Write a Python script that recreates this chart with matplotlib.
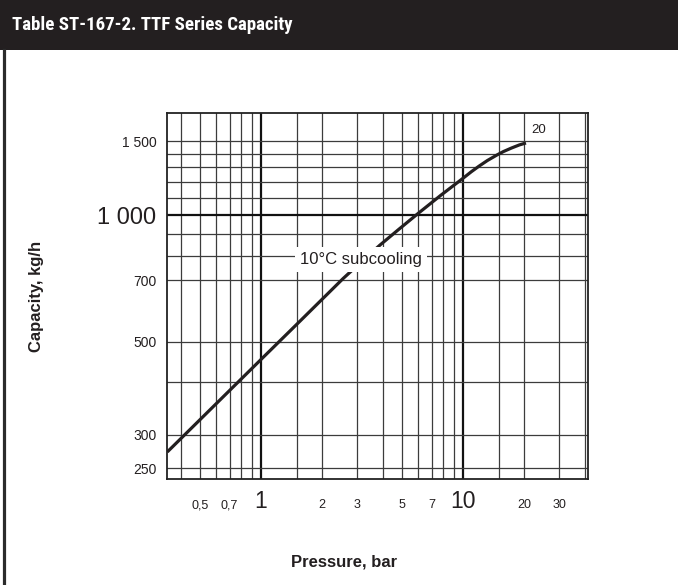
import matplotlib
matplotlib.use('Agg')
import matplotlib.pyplot as plt
from matplotlib import font_manager
from matplotlib.font_manager import FontProperties
from matplotlib.lines import Line2D
from matplotlib.patches import Rectangle
from matplotlib.ticker import NullLocator

# ---- data ----
pressure = [0.344, 0.5, 1.0, 1.56, 2.55, 3.16, 3.88, 4.79, 6.0, 7.76, 10.0,
            11.0, 12.0, 13.2, 14.7, 15.85, 17.4, 19.05, 20.5]
capacity = [273, 326, 453, 559, 706, 776, 848, 923, 1009, 1114, 1223,
            1268, 1307, 1348, 1389, 1416, 1444, 1469, 1484]

x_grid = [0.4, 0.5, 0.6, 0.7, 0.8, 0.9, 1, 1.5, 2, 3, 4, 5, 6, 7, 8, 9, 10, 15, 20, 30, 40]
y_grid = [250, 300, 400, 500, 700, 800, 900, 1000, 1100, 1200, 1300, 1400, 1500]
x_major = [1, 10]
y_major = [1000]

x_tick_vals = [0.5, 0.7, 1, 2, 3, 5, 7, 10, 20, 30]
x_tick_text = ['0,5', '0,7', '1', '2', '3', '5', '7', '10', '20', '30']
y_tick_vals = [250, 300, 500, 700, 1000, 1500]
y_tick_text = ['250', '300', '500', '700', '1 000', '1 500']

title = 'Table ST-167-2. TTF Series Capacity'
curve_label = '10°C subcooling'
end_label = '20'
x_label = 'Pressure, bar'
y_label = 'Capacity, kg/h'

# ---- fonts ----
names = {f.name for f in font_manager.fontManager.ttflist}
base_font = 'Liberation Sans' if 'Liberation Sans' in names else 'DejaVu Sans'
plt.rcParams['font.family'] = [base_font, 'DejaVu Sans']

title_prop = None
for key in ('LiberationSansNarrow-Bold', 'RobotoCondensed-Bold', 'DejaVuSansCondensed-Bold',
            'OpenSansCondensed-Bold', 'NotoSans-CondensedBold'):
    for f in font_manager.fontManager.ttflist:
        if key.lower() in f.fname.lower().replace('_', '').replace(' ', ''):
            title_prop = FontProperties(fname=f.fname)
            break
    if title_prop is not None:
        break
if title_prop is None:
    title_prop = FontProperties(family=base_font, weight='bold')

W, H = 678, 585
fig = plt.figure(figsize=(W / 100, H / 100), dpi=100)
fig.patch.set_facecolor('white')

# title bar
bar_h = 50 / H
fig.add_artist(Rectangle((0, 1 - bar_h), 1, bar_h, transform=fig.transFigure,
                         facecolor='#231f20', edgecolor='none'))
title_prop.set_size(16)
t = fig.text(12 / W, 1 - 25 / H, title, color='white', fontproperties=title_prop,
             ha='left', va='center')
renderer = fig.canvas.get_renderer()
w = t.get_window_extent(renderer).width
title_prop.set_size(min(18, 16 * 282 / w))
t.set_fontproperties(title_prop)

# left frame line
fig.add_artist(Line2D([4.3 / W, 4.3 / W], [0, 1 - bar_h], transform=fig.transFigure,
                      color='#2b2b2b', lw=2.3))

# axes
left, right, top, bottom = 167.3, 588.3, 112.7, 479.3
ax = fig.add_axes([left / W, 1 - bottom / H, (right - left) / W, (bottom - top) / H])
ax.set_xscale('log')
ax.set_yscale('log')
ax.set_xlim(0.344, 41.7)
ax.set_ylim(235, 1752)
ax.xaxis.set_minor_locator(NullLocator())
ax.yaxis.set_minor_locator(NullLocator())

for xv in x_grid:
    if xv in x_major:
        ax.axvline(xv, color='#111111', lw=1.6, zorder=1)
    else:
        ax.axvline(xv, color='#3c3c3c', lw=0.9, zorder=1)
for yv in y_grid:
    if yv in y_major:
        ax.axhline(yv, color='#111111', lw=1.6, zorder=1)
    else:
        ax.axhline(yv, color='#3c3c3c', lw=0.9, zorder=1)

for s in ax.spines.values():
    s.set_linewidth(1.3)
    s.set_color('#222222')

ax.plot(pressure, capacity, color='#231f20', lw=2.3, solid_capstyle='butt',
        solid_joinstyle='round', zorder=3)

ax.text(3.14, 785, curve_label, fontsize=12, ha='center', va='center', color='#231f20',
        bbox=dict(boxstyle='square,pad=0.3', fc='white', ec='none'), zorder=4)
ax.text(23.8, 1594, end_label, fontsize=9.5, ha='center', va='center', color='#231f20')

ax.set_xticks(x_tick_vals, x_tick_text)
ax.set_yticks(y_tick_vals, y_tick_text)
ax.tick_params(axis='x', length=0, pad=20.9, colors='#231f20')
ax.tick_params(axis='y', length=0, pad=7.9, colors='#231f20')
for lbl in ax.get_xticklabels():
    lbl.set_verticalalignment('baseline')
    lbl.set_fontsize(16.5 if lbl.get_text() in ('1', '10') else 9)
for lbl in ax.get_yticklabels():
    lbl.set_fontsize(17 if lbl.get_text() == '1 000' else 10)

fig.text(36 / W, 1 - 296 / H, y_label, rotation=90, fontsize=12, fontweight='bold',
         ha='center', va='center', color='#231f20')
fig.text(344 / W, 1 - 561.7 / H, x_label, fontsize=12, fontweight='bold',
         ha='center', va='center', color='#231f20')

fig.savefig('out.png', dpi=100)
